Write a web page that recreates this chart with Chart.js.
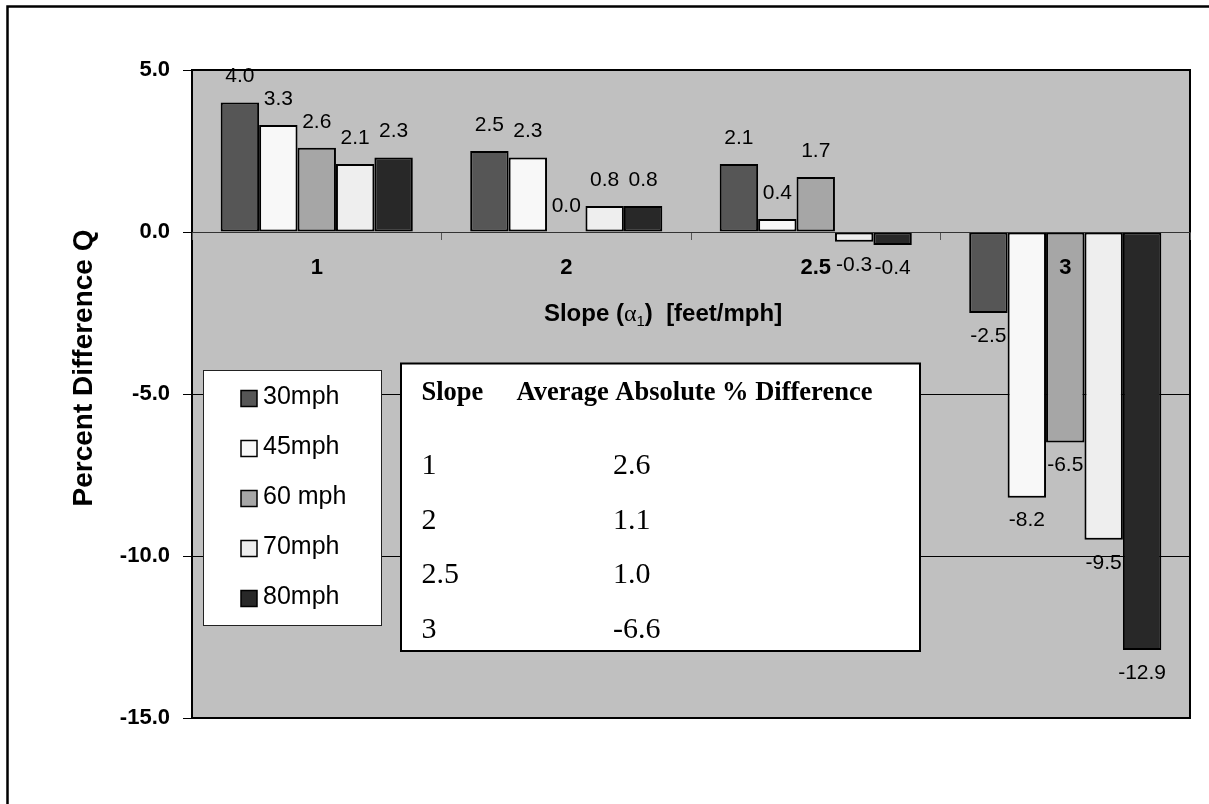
<!DOCTYPE html>
<html>
<head>
<meta charset="utf-8">
<script src="https://cdn.jsdelivr.net/npm/chart.js@4.4.1/dist/chart.umd.min.js"></script>
<style>
    html, body { margin: 0; padding: 0; background: #fff; }
    canvas { display: block; }
</style>
</head>
<body>
<canvas id="slopeChart" width="1209" height="804"></canvas>
<script>
// slope categories on the x axis
const slopes = ['1', '2', '2.5', '3'];
const yTicks = [5, 0, -5, -10, -15];

// percent difference Q per speed
const speedLabels = ['30mph', '45mph', '60 mph', '70mph', '80mph'];
const q30 = [4.0, 2.5, 2.1, -2.5];
const q45 = [3.3, 2.3, 0.4, -8.2];
const q60 = [2.6, 0.0, 1.7, -6.5];
const q70 = [2.1, 0.8, -0.3, -9.5];
const q80 = [2.3, 0.8, -0.4, -12.9];
const speedColors = ['#565656', '#f8f8f8', '#a6a6a6', '#eeeeee', '#282828'];

// inset table
const tableSlopes = ['1', '2', '2.5', '3'];
const avgAbsDiff = [2.6, 1.1, 1.0, -6.6];

const SANS = '"Liberation Sans", Arial, sans-serif';
const SERIF = '"Liberation Serif", "Times New Roman", serif';

const series = [q30, q45, q60, q70, q80];

// white page, grey plot area and the outer frame
const backgroundPlugin = {
    id: 'backgroundPlugin',
    beforeDraw(chart) {
        const { ctx, chartArea: a } = chart;
        ctx.save();
        ctx.fillStyle = '#fff';
        ctx.fillRect(0, 0, chart.width, chart.height);
        ctx.fillStyle = '#c0c0c0';
        ctx.fillRect(a.left, a.top, a.right - a.left, a.bottom - a.top);
        ctx.strokeStyle = '#000';
        ctx.lineWidth = 2.5;
        ctx.beginPath();
        ctx.moveTo(7.5, chart.height);
        ctx.lineTo(7.5, 6.5);
        ctx.lineTo(chart.width, 6.5);
        ctx.stroke();
        ctx.restore();
    },
    beforeDatasetsDraw(chart) {
        const { ctx, chartArea: a } = chart;
        ctx.save();
        ctx.strokeStyle = '#000';
        ctx.lineWidth = 2;
        ctx.strokeRect(a.left, a.top, a.right - a.left, a.bottom - a.top);
        ctx.restore();
    }
};

// value labels at the outside end of each bar
const valueLabelPlugin = {
    id: 'valueLabelPlugin',
    afterDatasetsDraw(chart) {
        const ctx = chart.ctx;
        ctx.save();
        ctx.font = '21px ' + SANS;
        ctx.fillStyle = '#000';
        ctx.textAlign = 'center';
        ctx.textBaseline = 'middle';
        chart.data.datasets.forEach((ds, i) => {
            const meta = chart.getDatasetMeta(i);
            meta.data.forEach((bar, j) => {
                const v = ds.data[j];
                const y = v >= 0 ? bar.y - 26 : bar.y + 23;
                ctx.fillText(v.toFixed(1), bar.x, y);
            });
        });
        ctx.restore();
    }
};

// legend box, inset table and axis titles
const overlayPlugin = {
    id: 'overlayPlugin',
    afterDraw(chart) {
        const ctx = chart.ctx;
        ctx.save();

        // legend
        ctx.fillStyle = '#fff';
        ctx.fillRect(203.5, 370.5, 178, 255);
        ctx.strokeStyle = '#222';
        ctx.lineWidth = 1;
        ctx.strokeRect(203.5, 370.5, 178, 255);
        ctx.font = '25px ' + SANS;
        ctx.textAlign = 'left';
        ctx.textBaseline = 'alphabetic';
        chart.data.datasets.forEach((ds, i) => {
            const base = 403.5 + i * 50;
            ctx.fillStyle = ds.backgroundColor;
            ctx.fillRect(241, base - 13, 16, 16);
            ctx.strokeStyle = '#000';
            ctx.lineWidth = 1.5;
            ctx.strokeRect(241, base - 13, 16, 16);
            ctx.fillStyle = '#000';
            ctx.fillText(ds.label, 263, base);
        });

        // table
        ctx.fillStyle = '#fff';
        ctx.fillRect(401, 363.5, 519, 287.5);
        ctx.strokeStyle = '#000';
        ctx.lineWidth = 2;
        ctx.strokeRect(401, 363.5, 519, 287.5);
        ctx.fillStyle = '#000';
        ctx.font = 'bold 26.5px ' + SERIF;
        ctx.fillText('Slope', 421.5, 400);
        ctx.fillText('Average Absolute % Difference', 516.5, 400);
        ctx.font = '30px ' + SERIF;
        tableSlopes.forEach((s, i) => {
            const base = 474 + i * 54.7;
            ctx.fillText(s, 421.5, base);
            ctx.fillText(avgAbsDiff[i].toFixed(1), 613, base);
        });

        // x axis title: Slope (α1)  [feet/mph]
        const parts = [
            { t: 'Slope (', f: 'bold 24px ' + SANS, dy: 0 },
            { t: 'α', f: '24px ' + SERIF, dy: 0 },
            { t: '1', f: '15px ' + SANS, dy: 5 },
            { t: ')  [feet/mph]', f: 'bold 24px ' + SANS, dy: 0 }
        ];
        let total = 0;
        parts.forEach(p => { ctx.font = p.f; p.w = ctx.measureText(p.t).width; total += p.w; });
        let x = 663 - total / 2;
        parts.forEach(p => {
            ctx.font = p.f;
            ctx.fillText(p.t, x, 321 + p.dy);
            x += p.w;
        });

        // y axis title
        ctx.translate(92, 368);
        ctx.rotate(-Math.PI / 2);
        ctx.font = 'bold 28px ' + SANS;
        ctx.textAlign = 'center';
        ctx.fillText('Percent Difference Q', 0, 0);

        ctx.restore();
    }
};

const ctx = document.getElementById('slopeChart').getContext('2d');
new Chart(ctx, {
    type: 'bar',
    data: {
        labels: slopes,
        datasets: series.map((d, i) => ({
            label: speedLabels[i],
            data: d,
            backgroundColor: speedColors[i],
            borderColor: '#000',
            borderWidth: 2,
            borderSkipped: false,
            categoryPercentage: 0.77,
            barPercentage: 1.0
        }))
    },
    options: {
        responsive: false,
        animation: false,
        layout: { padding: { top: 70, right: 19, bottom: 86, left: 0 } },
        plugins: {
            legend: { display: false },
            tooltip: { enabled: false }
        },
        scales: {
            x: {
                position: { y: 0 },
                grid: { drawOnChartArea: false, tickLength: 7, color: '#555', lineWidth: 1, z: 1 },
                border: { color: '#333', width: 1, z: 1 },
                ticks: { z: 1, color: '#000', padding: 16, font: { family: SANS, size: 22, weight: 'bold' } }
            },
            y: {
                min: -15,
                max: 5,
                afterFit(scale) { scale.width = 192; },
                afterBuildTicks(scale) { scale.ticks = yTicks.map(v => ({ value: v })); },
                grid: { color: '#000', lineWidth: 1, tickLength: 9 },
                border: { color: '#000', width: 2 },
                ticks: {
                    color: '#000',
                    padding: 13,
                    font: { family: SANS, size: 22, weight: 'bold' },
                    callback: v => v.toFixed(1)
                }
            }
        }
    },
    plugins: [backgroundPlugin, valueLabelPlugin, overlayPlugin]
});
</script>
</body>
</html>
